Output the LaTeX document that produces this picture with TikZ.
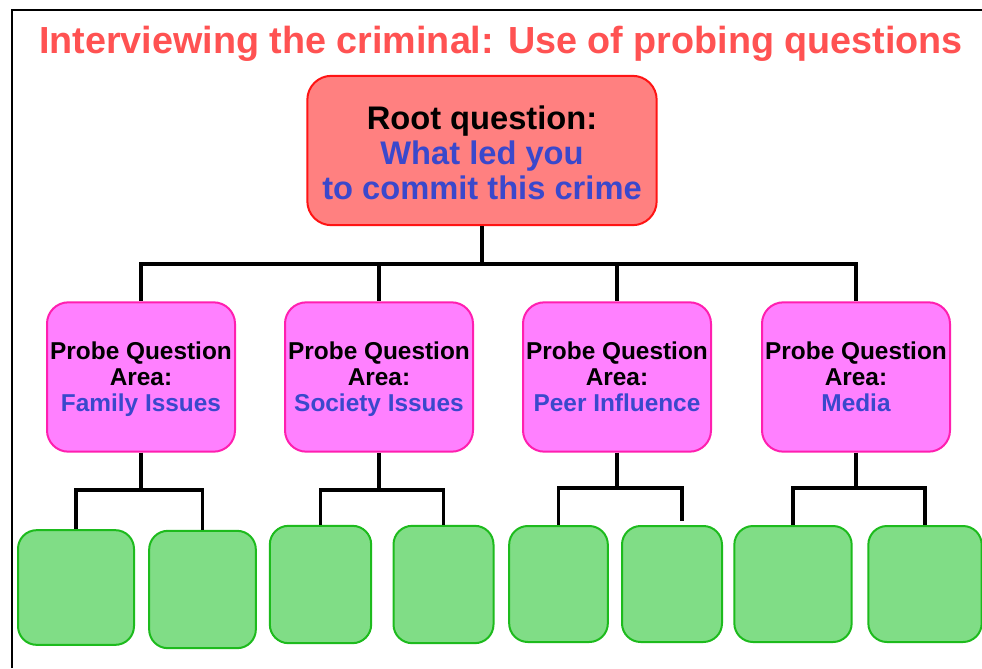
\documentclass[tikz,border=0pt]{standalone}
\usepackage{fontspec}
\setmainfont{Liberation Sans}
\definecolor{titlered}{HTML}{FF5252}
\definecolor{rootfill}{HTML}{FF8080}
\definecolor{rootline}{HTML}{FF1414}
\definecolor{qblue}{HTML}{3A48CC}
\definecolor{probefill}{HTML}{FF80FF}
\definecolor{probeline}{HTML}{FF1FB0}
\definecolor{leaffill}{HTML}{80DD86}
\definecolor{leafline}{HTML}{1DBB1D}
\begin{document}
\begin{tikzpicture}[x=0.75pt,y=-0.75pt,
  rootbox/.style={draw=rootline,fill=rootfill,line width=1.5pt,rounded corners=18pt,
    minimum width=262pt,minimum height=112pt,inner sep=0pt},
  roottext/.style={align=center,font=\fontsize{24.5}{26.3}\selectfont\bfseries,yshift=-1.5pt},
  probebox/.style={draw=probeline,fill=probefill,line width=1.5pt,rounded corners=16pt,
    minimum width=141pt,minimum height=112pt,inner sep=0pt},
  probetext/.style={align=center,font=\fontsize{18.3}{19.5}\selectfont\bfseries,yshift=-3pt},
  leafbox/.style={draw=leafline,fill=leaffill,line width=1.5pt,rounded corners=14pt,inner sep=0pt},
  conn/.style={draw=black,line width=2.3pt}]
\useasboundingbox (0,0) rectangle (982,668);
\fill[white] (0,0) rectangle (982,668);
\draw[line width=2pt] (12,668) -- (12,10) -- (982,10);

\node[font=\fontsize{28.3}{32}\selectfont\bfseries,text=titlered] (title) at (501,44) {Interviewing the criminal: Use of probing questions};

\node[rootbox,label={[roottext]center:Root question:\\\textcolor{qblue}{What led you}\\\textcolor{qblue}{to commit this crime}}] (root) at (482,150.5) {};

\node[probebox,label={[probetext]center:Probe Question\\Area:\\\textcolor{qblue}{Family Issues\strut}}] (p1) at (141,377) {};
\node[probebox,label={[probetext]center:Probe Question\\Area:\\\textcolor{qblue}{Society Issues\strut}}] (p2) at (379,377) {};
\node[probebox,label={[probetext]center:Probe Question\\Area:\\\textcolor{qblue}{Peer Influence\strut}}] (p3) at (617,377) {};
\node[probebox,label={[probetext]center:Probe Question\\Area:\\\textcolor{qblue}{Media\strut}}] (p4) at (856,377) {};

\node[leafbox,minimum width=87pt,minimum height=86pt] (l1) at (76,587.5) {};
\node[leafbox,minimum width=80pt,minimum height=88pt] (l2) at (202.5,589.5) {};
\node[leafbox,minimum width=76pt,minimum height=88pt] (l3) at (320.5,584.5) {};
\node[leafbox,minimum width=75pt,minimum height=88pt] (l4) at (443.5,584.5) {};
\node[leafbox,minimum width=74pt,minimum height=87pt] (l5) at (558.5,584) {};
\node[leafbox,minimum width=75pt,minimum height=87pt] (l6) at (672,584) {};
\node[leafbox,minimum width=88pt,minimum height=87pt] (l7) at (793,584) {};
\node[leafbox,minimum width=85pt,minimum height=87pt] (l8) at (925,584) {};

\coordinate (rj) at (482,264);
\draw[conn,line width=3pt] (root.south) -- (rj);
\draw[conn] (rj) -| (p1.north);
\draw[conn] (rj) -| (p2.north);
\draw[conn] (rj) -| (p3.north);
\draw[conn] (rj) -| (p4.north);

\coordinate (j1) at (141,490);
\coordinate (j2) at (379,490);
\coordinate (j3) at (617,488);
\coordinate (j4) at (856,488);
\coordinate (e6) at (682,521);
\draw[conn] (p1.south) -- (j1);
\draw[conn] (j1) -| (l1.north);
\draw[conn] (j1) -| (l2.north);
\draw[conn] (p2.south) -- (j2);
\draw[conn] (j2) -| (l3.north);
\draw[conn] (j2) -| (l4.north);
\draw[conn] (p3.south) -- (j3);
\draw[conn] (j3) -| (l5.north);
\draw[conn] (j3) -| (e6);
\draw[conn] (p4.south) -- (j4);
\draw[conn] (j4) -| (l7.north);
\draw[conn] (j4) -| (l8.north);
\end{tikzpicture}
\end{document}
